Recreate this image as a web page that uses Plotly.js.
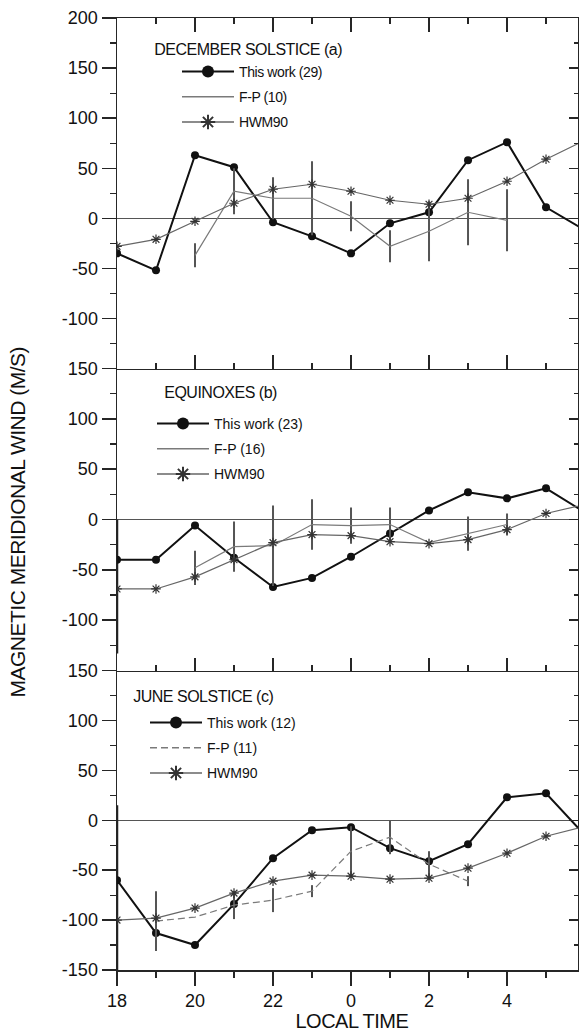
<!DOCTYPE html>
<html>
<head>
<meta charset="utf-8">
<script src="https://cdn.plot.ly/plotly-3.0.1.min.js"></script>
<style>
  html, body { margin: 0; padding: 0; background: #fff; }
  #chart { width: 579px; height: 1034px; }
  /* tight lettering for the panel labels, legend entries and axis titles */
  #chart .annotation-text { letter-spacing: -0.5px; }
  #chart .legendtext { letter-spacing: -0.4px; }
  /* thin sample lines in the legends, slightly heavier for the first entry */
  #chart g.legend .legendlines path,
  #chart g.legend2 .legendlines path,
  #chart g.legend3 .legendlines path { stroke-width: 1.4px !important; }
  #chart g.legend .groups:first-child .legendlines path,
  #chart g.legend2 .groups:first-child .legendlines path,
  #chart g.legend3 .groups:first-child .legendlines path { stroke-width: 2px !important; }
</style>
</head>
<body>
<div id="chart"></div>
<script>
// Local time in hours, continuing past midnight (24 = 00 LT, 30 = 06 LT)
const hours = [18, 19, 20, 21, 22, 23, 24, 25, 26, 27, 28, 29, 30];

// Axis ticks
const xTickVals = [18, 20, 22, 24, 26, 28];
const xTickText = ['18', '20', '22', '0', '2', '4'];
const yTickValsTop = [-100, -50, 0, 50, 100, 150, 200];
const yTickTextTop = ['-100', '-50', '0', '50', '100', '150', '200'];
const yTickValsMid = [-100, -50, 0, 50, 100, 150];
const yTickTextMid = ['-100', '-50', '0', '50', '100', '150'];
const yTickValsBot = [-150, -100, -50, 0, 50, 100, 150];
const yTickTextBot = ['-150', '-100', '-50', '0', '50', '100', '150'];

// Panel (a): December solstice
const decThisWork = [-35, -52, 63, 51, -4, -18, -35, -5, 6, 58, 76, 11, -12];
const decFP       = [null, null, -37, 27, 20, 20, 2, -28, -13, 6, -2, null, null];
const decFPErr    = [0, 0, 12, 23, 21, 37, 15, 16, 30, 33, 31, 0, 0];
const decHWM      = [-28, -21, -3, 15, 29, 34, 27, 18, 14, 20, 37, 59, 78];

// Panel (b): equinoxes
const equThisWork      = [-40, -40, -6, -38, -67, -58, -37, -14, 9, 27, 21, 31, 7];
const equThisWorkErrUp = [40, 0, 0, 0, 0, 0, 0, 0, 0, 0, 0, 0, 0];
const equThisWorkErrDn = [93, 0, 0, 0, 0, 0, 0, 0, 0, 0, 0, 0, 0];
const equFP            = [null, null, -48, -27, -26, -5, -6, -5, -23, -14, -5, null, null];
const equFPErr         = [0, 0, 17, 25, 40, 25, 18, 17, 0, 17, 11, 0, 0];
const equHWM           = [-69, -69, -57, -40, -23, -15, -16, -22, -24, -20, -10, 6, 15];

// Panel (c): June solstice
const junThisWork      = [-60, -113, -125, -84, -38, -10, -7, -28, -41, -24, 23, 27, -15];
const junThisWorkErrUp = [75, 0, 0, 0, 0, 0, 0, 0, 0, 0, 0, 0, 0];
const junThisWorkErrDn = [90, 0, 0, 0, 0, 0, 0, 0, 0, 0, 0, 0, 0];
const junFP            = [null, -101, -97, -85, -80, -71, -31, -17, -44, -61, null, null, null];
const junFPErr         = [0, 30, 0, 14, 12, 6, 25, 17, 13, 5, 0, 0, 0];
const junHWM           = [-100, -98, -88, -73, -61, -55, -56, -59, -58, -48, -33, -16, -6];

// Series names
const nameThis = ['This work (29)', 'This work (23)', 'This work (12)'];
const nameFP   = ['F-P (10)', 'F-P (16)', 'F-P (11)'];
const nameHWM  = 'HWM90';
const panelTitles = ['DECEMBER SOLSTICE (a)', 'EQUINOXES (b)', 'JUNE SOLSTICE (c)'];

// ---- figure geometry (pixels) ----
const W = 579, H = 1034;
const mL = 117, mR = 1, mT = 18, mB = 64;
const plotW = W - mL - mR, plotH = H - mT - mB;
const px = p => (p - mL) / plotW;           // pixel x -> paper x
const py = p => (H - mB - p) / plotH;       // pixel y -> paper y
const bTop = py(368.5), bMid = py(670.5);   // panel boundaries

const SANS = '"Liberation Sans", Arial, Helvetica, sans-serif';
const AX = '#262626';

function thisWorkTrace(y, name, xa, ya, leg, up, dn) {
  const t = {
    x: hours, y: y, name: name, xaxis: xa, yaxis: ya, legend: leg, legendgroup: leg + 'a',
    mode: 'lines+markers', line: { color: '#111', width: 2 },
    marker: { symbol: 'circle', size: 8, color: '#111' }, hoverinfo: 'x+y'
  };
  if (up) {
    t.error_y = { type: 'data', symmetric: false, array: up, arrayminus: dn,
                  color: '#222', thickness: 2.5, width: 0 };
  }
  return t;
}
function fpTrace(y, err, name, xa, ya, leg, dash) {
  return {
    x: hours, y: y, name: name, xaxis: xa, yaxis: ya, legend: leg, legendgroup: leg + 'b',
    mode: 'lines', connectgaps: false,
    line: { color: '#7a7a7a', width: 1.2, dash: dash || 'solid' },
    error_y: { type: 'data', array: err, color: '#555', thickness: 2, width: 0 },
    hoverinfo: 'x+y'
  };
}
function hwmTrace(y, xa, ya, leg) {
  return {
    x: hours, y: y, name: nameHWM, xaxis: xa, yaxis: ya, legend: leg, legendgroup: leg + 'c',
    mode: 'lines+markers', line: { color: '#666', width: 1.2 },
    marker: { symbol: 'asterisk-open', size: 8, color: '#333', line: { width: 1.2, color: '#333' } },
    hoverinfo: 'x+y'
  };
}
// empty traces that register the right-hand tick axes
function blank(xa, ya) {
  return { x: [], y: [], xaxis: xa, yaxis: ya, showlegend: false, hoverinfo: 'skip', mode: 'lines' };
}

const data = [
  thisWorkTrace(decThisWork, nameThis[0], 'x3', 'y3', 'legend'),
  fpTrace(decFP, decFPErr, nameFP[0], 'x3', 'y3', 'legend'),
  hwmTrace(decHWM, 'x3', 'y3', 'legend'),

  thisWorkTrace(equThisWork, nameThis[1], 'x2', 'y2', 'legend2', equThisWorkErrUp, equThisWorkErrDn),
  fpTrace(equFP, equFPErr, nameFP[1], 'x2', 'y2', 'legend2'),
  hwmTrace(equHWM, 'x2', 'y2', 'legend2'),

  thisWorkTrace(junThisWork, nameThis[2], 'x', 'y', 'legend3', junThisWorkErrUp, junThisWorkErrDn),
  fpTrace(junFP, junFPErr, nameFP[2], 'x', 'y', 'legend3', '7px,4px'),
  hwmTrace(junHWM, 'x', 'y', 'legend3'),

  blank('x', 'y4'), blank('x2', 'y5'), blank('x3', 'y6')
];

const xRange = [18, 29.82];
function xAxis(anchor, opts) {
  return Object.assign({
    anchor: anchor, domain: [0, 1], range: xRange, fixedrange: true,
    tickmode: 'array', tickvals: xTickVals, ticktext: xTickText,
    showgrid: false, zeroline: false, showline: true, linecolor: AX, linewidth: 1.5,
    tickcolor: AX, tickwidth: 1.5
  }, opts);
}
function yAxis(anchor, dom, range, tv, tt) {
  return {
    anchor: anchor, domain: dom, range: range, fixedrange: true,
    tickmode: 'array', tickvals: tv, ticktext: tt,
    ticks: 'outside', ticklen: 14, tickcolor: AX, tickwidth: 1.4,
    tickfont: { family: SANS, size: 18, color: '#111' },
    minor: { tickmode: 'linear', tick0: 0, dtick: 25, ticks: 'outside', ticklen: 6, tickcolor: AX, tickwidth: 1.2 },
    showgrid: false, showline: true, linecolor: AX, linewidth: 1.5,
    zeroline: true, zerolinecolor: '#555', zerolinewidth: 1.5
  };
}
function yRight(over, anchor, range) {
  return {
    overlaying: over, anchor: anchor, side: 'right', range: range, fixedrange: true,
    tickmode: 'linear', tick0: 0, dtick: 50, ticks: 'inside', ticklen: 9,
    tickcolor: AX, tickwidth: 1.4, showticklabels: false,
    minor: { tickmode: 'linear', tick0: 0, dtick: 25, ticks: 'inside', ticklen: 4, tickcolor: AX, tickwidth: 1.2 },
    showgrid: false, zeroline: false, showline: true, linecolor: AX, linewidth: 1.5
  };
}

const legendBase = {
  bgcolor: 'rgba(0,0,0,0)', borderwidth: 0, xanchor: 'left', yanchor: 'top',
  font: { family: SANS, size: 14, color: '#111' },
  itemsizing: 'constant', itemwidth: 52, traceorder: 'grouped', tracegroupgap: 4,
  itemclick: false, itemdoubleclick: false
};

const titleFont = { family: SANS, size: 16, color: '#111' };

const layout = {
  width: W, height: H,
  margin: { l: mL, r: mR, t: mT, b: mB },
  paper_bgcolor: '#fff', plot_bgcolor: '#fff',
  showlegend: true,
  font: { family: SANS, color: '#111' },

  xaxis: xAxis('y', {
    ticks: 'outside', ticklen: 14, ticklabelstandoff: 0,
    tickfont: { family: SANS, size: 18, color: '#111' },
    minor: { tickmode: 'linear', tick0: 18, dtick: 1, ticks: 'outside', ticklen: 6, tickcolor: AX, tickwidth: 1.2 }
  }),
  xaxis2: xAxis('y2', {
    ticks: 'inside', ticklen: 13, showticklabels: false,
    minor: { tickmode: 'linear', tick0: 18, dtick: 1, ticks: 'inside', ticklen: 6, tickcolor: AX, tickwidth: 1.2 }
  }),
  xaxis3: xAxis('y3', {
    ticks: 'inside', ticklen: 14, showticklabels: false, mirror: 'ticks',
    minor: { tickmode: 'linear', tick0: 18, dtick: 1, ticks: 'inside', ticklen: 6, tickcolor: AX, tickwidth: 1.2 }
  }),

  yaxis:  yAxis('x',  [0, bMid],    [-150, 150], yTickValsBot, yTickTextBot),
  yaxis2: yAxis('x2', [bMid, bTop], [-150, 150], yTickValsMid, yTickTextMid),
  yaxis3: yAxis('x3', [bTop, 1],    [-150, 200], yTickValsTop, yTickTextTop),
  yaxis4: yRight('y',  'x',  [-150, 150]),
  yaxis5: yRight('y2', 'x2', [-150, 150]),
  yaxis6: yRight('y3', 'x3', [-150, 200]),

  legend:  Object.assign({}, legendBase, { x: px(177), y: py(56) }),
  legend2: Object.assign({}, legendBase, { x: px(152), y: py(408) }),
  legend3: Object.assign({}, legendBase, { x: px(145), y: py(707) }),

  annotations: [
    { text: panelTitles[0], xref: 'paper', yref: 'paper', x: px(147), y: py(50),
      xanchor: 'left', yanchor: 'middle', showarrow: false, font: titleFont },
    { text: panelTitles[1], xref: 'paper', yref: 'paper', x: px(159), y: py(392),
      xanchor: 'left', yanchor: 'middle', showarrow: false, font: titleFont },
    { text: panelTitles[2], xref: 'paper', yref: 'paper', x: px(127), y: py(696),
      xanchor: 'left', yanchor: 'middle', showarrow: false, font: titleFont },
    { text: 'MAGNETIC MERIDIONAL WIND (M/S)', xref: 'paper', yref: 'paper',
      x: px(17), y: py(522), xanchor: 'center', yanchor: 'middle', textangle: -90,
      showarrow: false, font: { family: SANS, size: 21, color: '#111' } },
    { text: 'LOCAL TIME', xref: 'paper', yref: 'paper', x: px(352), y: py(1021),
      xanchor: 'center', yanchor: 'middle', showarrow: false,
      font: { family: SANS, size: 20, color: '#111' } }
  ]
};

Plotly.newPlot('chart', data, layout, { staticPlot: true, displayModeBar: false });
</script>
</body>
</html>
